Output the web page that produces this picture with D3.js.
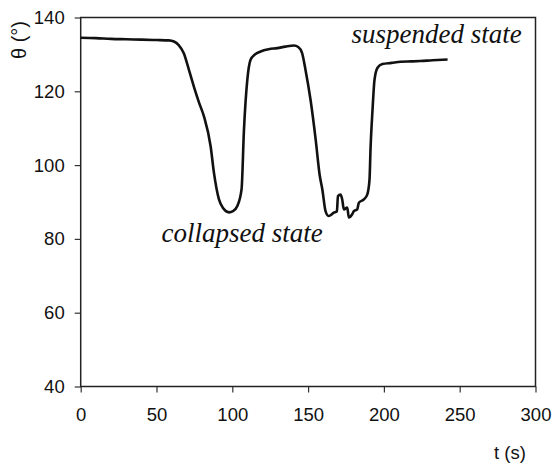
<!DOCTYPE html>
<html>
<head>
<meta charset="utf-8">
<script src="https://cdn.jsdelivr.net/npm/d3@7"></script>
<style>
  body { margin: 0; background: #fff; }
  svg { display: block; }
</style>
</head>
<body>
<div id="chart"></div>
<script>
// contact angle vs time
var time = [0, 10, 20, 30, 40, 50, 58, 61.5, 64.5, 68, 71.4, 74.7, 78, 81.3, 85.7, 87.9, 91.2, 94, 97.8, 100.5,
    103.3, 106.1, 107.7, 109.9, 112, 115, 118.7, 124, 129.7, 135, 140.7, 143.5, 146, 148.3, 151.6, 155,
    157.6, 159.4, 161.5, 163.5, 167, 169, 169.7, 171.4, 172.5, 173.6, 175.8, 176.9, 179, 180.2, 182.4,
    183.5, 186.8, 189, 190.5, 191.2, 192.5, 193.8, 195.8, 199, 205, 211, 218, 224, 232, 242];
var theta = [134.5, 134.4, 134.2, 134.1, 134.0, 133.9, 133.8, 133.5, 132.6, 130.3, 125.8, 121.2, 117.0, 113.2, 105.1, 97.9, 90.7, 88.3, 87.2, 87.5,
    88.9, 93.4, 109.6, 123.1, 128.5, 130.0, 130.8, 131.4, 131.7, 132.1, 132.4, 132.0, 130.4, 125.8, 117.7, 106.9,
    97.4, 93.4, 87.5, 86.2, 87.1, 87.5, 91.6, 92.0, 90.7, 88.0, 88.5, 85.8, 86.6, 87.5, 88.0,
    89.8, 90.7, 92.0, 96.0, 104.6, 115.0, 123.1, 126.4, 127.4, 127.7, 128.0, 128.1, 128.2, 128.4, 128.6];

var xTicks = [0, 50, 100, 150, 200, 250, 300];
var yTicks = [40, 60, 80, 100, 120, 140];

var width = 553,
    height = 464;
var margin = {top: 17.5, right: 17.5, bottom: 77.5, left: 80.7};

var svg = d3.select("#chart")
    .append("svg")
    .attr("width", width)
    .attr("height", height);

var x = d3.scaleLinear().domain([0, 300]).range([margin.left, width - margin.right]);
var y = d3.scaleLinear().domain([40, 140]).range([height - margin.bottom, margin.top]);

var xAxis = svg.append("g")
    .attr("transform", "translate(0," + (height - margin.bottom) + ")")
    .call(d3.axisBottom(x).tickValues(xTicks).tickSizeInner(6).tickSizeOuter(0).tickPadding(15));

var yAxis = svg.append("g")
    .attr("transform", "translate(" + margin.left + ",0)")
    .call(d3.axisLeft(y).tickValues(yTicks).tickSizeInner(6).tickSizeOuter(0).tickPadding(10));

[xAxis, yAxis].forEach(function(ax) {
    ax.select(".domain").remove();
    ax.selectAll("line").attr("stroke", "#333").attr("stroke-width", 1.2);
    ax.selectAll("text")
        .style("font-family", "'Liberation Sans', Arial, sans-serif")
        .style("font-size", "18.5px")
        .attr("fill", "#111");
});

// frame
svg.append("rect")
    .attr("x", x(0))
    .attr("y", y(140))
    .attr("width", x(300) - x(0))
    .attr("height", y(40) - y(140))
    .attr("fill", "none")
    .attr("stroke", "#222")
    .attr("stroke-width", 1.5);

var line = d3.line()
    .x(function(d, i) { return x(time[i]); })
    .y(function(d) { return y(d); })
    .curve(d3.curveMonotoneX);

svg.append("path")
    .datum(theta)
    .attr("d", line)
    .attr("fill", "none")
    .attr("stroke", "#111")
    .attr("stroke-width", 2.6)
    .attr("stroke-linejoin", "round");

// axis titles
svg.append("text")
    .attr("transform", "translate(26,40) rotate(-90)")
    .attr("text-anchor", "middle")
    .style("font-family", "'Liberation Sans', Arial, sans-serif")
    .style("font-size", "20px")
    .attr("fill", "#111")
    .text("θ (°)");

svg.append("text")
    .attr("x", 510)
    .attr("y", 459)
    .attr("text-anchor", "middle")
    .style("font-family", "'Liberation Sans', Arial, sans-serif")
    .style("font-size", "18.5px")
    .attr("fill", "#111")
    .text("t (s)");

// state annotations
svg.append("text")
    .attr("x", x(291))
    .attr("y", y(133.1))
    .attr("text-anchor", "end")
    .style("font-family", "'Liberation Serif', 'Times New Roman', serif")
    .style("font-style", "italic")
    .style("font-size", "27px")
    .attr("fill", "#111")
    .text("suspended state");

svg.append("text")
    .attr("x", x(53.3))
    .attr("y", y(79.2))
    .style("font-family", "'Liberation Serif', 'Times New Roman', serif")
    .style("font-style", "italic")
    .style("font-size", "27px")
    .attr("fill", "#111")
    .text("collapsed state");
</script>
</body>
</html>
